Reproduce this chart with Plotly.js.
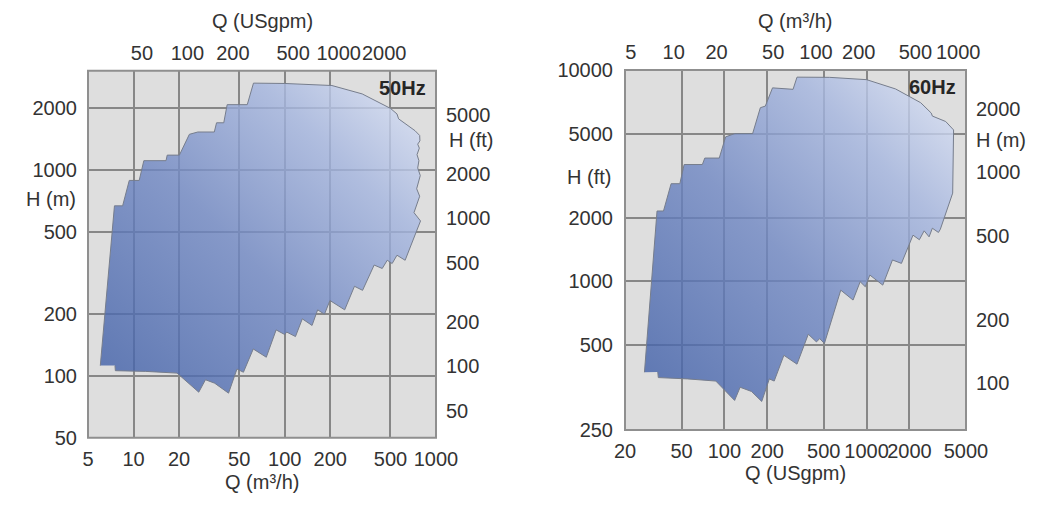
<!DOCTYPE html>
<html>
<head>
<meta charset="utf-8">
<script src="https://cdn.plot.ly/plotly-3.0.1.min.js"></script>
<style>
  html, body { margin: 0; padding: 0; background: #ffffff; }
  #chart { width: 1060px; height: 505px; }
</style>
</head>
<body>
<div id="chart"></div>
<script>
// ---------------- DATA ----------------
// 50 Hz operating envelope: Q in m3/h, H in m
const Q50_M3H = [6.03, 7.48, 8.47, 9.37, 10.9, 11.7, 16.4, 16.7, 20.1, 23.4, 26.6, 34.2, 35.4, 39.5, 41.6, 56.5, 62.1,
  100, 205, 325, 500, 552, 566, 641, 727, 780,
  783, 757, 776, 749, 771, 757, 787, 745, 780, 715, 790,
  625, 552, 513, 476, 441, 390, 327, 289, 249, 199, 183, 165, 151.5, 130.6, 117.7, 103, 100, 87.7, 75.5, 61.9, 53.3, 48.3, 42.5, 34.4, 29.9, 27, 19.4, 12, 7.58, 7.54];
const H50_M = [112, 669, 669, 889, 889, 1109, 1109, 1180, 1180, 1489, 1528, 1528, 1694, 1694, 2075, 2075, 2640,
  2630, 2570, 2340, 1990, 1870, 1770, 1650, 1550, 1470,
  1384, 1334, 1276, 1186, 1109, 1022, 939, 810, 745, 620, 565,
  364, 385, 351, 364, 332, 345, 260, 272, 209, 232, 199, 209, 175.5, 189, 155, 163, 158.5, 167, 123, 134.9, 104, 107.8, 82.3, 92, 95.6, 83.2, 103, 105, 105.8, 112];

// 60 Hz operating envelope: Q in USgpm, H in ft
const Q60_GPM = [27.4, 33.6, 37.3, 42.2, 48.6, 52.1, 70, 72.8, 92, 102, 118.5, 158, 179, 194, 218, 304, 324,
  550, 1000, 1600, 2400, 2850, 2900, 3600, 4090,
  4030, 3300, 3200, 2900, 2750, 2540, 2350, 2120, 1758, 1520, 1299, 1054, 979, 901, 803, 658,
  505, 468, 444, 389, 324, 262, 224, 207, 183, 155, 129, 118, 87, 55, 34.3, 34];
const H60_FT = [370, 2148, 2148, 2893, 2893, 3566, 3566, 3826, 3826, 4822, 5000, 5000, 6628, 6745, 8230, 8100, 9250,
  9230, 9000, 8130, 7000, 6250, 6050, 5700, 5200,
  2610, 1760, 1700, 1780, 1620, 1730, 1570, 1650, 1213, 1259, 957, 1068, 940, 993, 813, 906,
  506, 534, 515, 560, 404, 445, 336, 344, 269, 300, 314, 272, 336, 344, 349, 371];

// Tick values / labels
const L_Q_M3H_TICKS = [5, 10, 20, 50, 100, 200, 500, 1000];
const L_Q_GPM_TICKS = [50, 100, 200, 500, 1000, 2000];
const L_H_M_TICKS = [50, 100, 200, 500, 1000, 2000];
const L_H_FT_TICKS = [50, 100, 200, 500, 1000, 2000, 5000];

const R_Q_GPM_TICKS = [20, 50, 100, 200, 500, 1000, 2000, 5000];
const R_Q_M3H_TICKS = [5, 10, 20, 50, 100, 200, 500, 1000];
const R_H_FT_TICKS = [197, 500, 1000, 2000, 5000, 10000];
const R_H_FT_LABELS = ['250', '500', '1000', '2000', '5000', '10000'];
const R_H_M_TICKS = [100, 200, 500, 1000, 2000];

const GPM_PER_M3H = 4.403;
const FT_PER_M = 3.281;

// ---------------- LAYOUT ----------------
const W = 1060, Hh = 505;
const lg = Math.log10;
const px = v => v / W;
const py = v => 1 - v / Hh;
const FONT = 'Liberation Sans, Arial, Helvetica, sans-serif';
const TXT = '#333333';
const GRID = '#878787';
const FS = 20;

const labels = a => a.map(String);

const Lx = [lg(5), 3];
const Ly = [lg(50), 3.482];
const Rx = [lg(20), lg(5000)];
const Ry = [lg(197), 4];

function baseAxis(extra) {
  return Object.assign({
    type: 'log', tickmode: 'array', showgrid: true, gridcolor: GRID, gridwidth: 2,
    zeroline: false, showline: false, ticks: '', fixedrange: true, tickangle: 0,
    tickfont: {family: FONT, size: FS, color: TXT}
  }, extra);
}

const layout = {
  width: W, height: Hh,
  margin: {l: 0, r: 0, t: 0, b: 0},
  paper_bgcolor: '#ffffff',
  plot_bgcolor: '#dedede',
  showlegend: false,
  font: {family: FONT, size: FS, color: TXT},
  // left chart (50 Hz)
  xaxis: baseAxis({domain: [px(88), px(436)], anchor: 'y', range: Lx,
    tickvals: L_Q_M3H_TICKS, ticktext: labels(L_Q_M3H_TICKS), ticklabelstandoff: 7}),
  xaxis2: baseAxis({overlaying: 'x', anchor: 'y', side: 'top', showgrid: false,
    range: [Lx[0] + lg(GPM_PER_M3H), Lx[1] + lg(GPM_PER_M3H)],
    tickvals: L_Q_GPM_TICKS, ticktext: labels(L_Q_GPM_TICKS), ticklabelstandoff: 6}),
  yaxis: baseAxis({domain: [py(437.7), py(70.7)], anchor: 'x', range: Ly,
    tickvals: L_H_M_TICKS, ticktext: labels(L_H_M_TICKS), ticklabelstandoff: 10}),
  yaxis2: baseAxis({overlaying: 'y', anchor: 'x', side: 'right', showgrid: false,
    range: [1.518, 3.997],
    tickvals: L_H_FT_TICKS, ticktext: labels(L_H_FT_TICKS), ticklabelstandoff: 9}),
  // right chart (60 Hz)
  xaxis3: baseAxis({domain: [px(625), px(966)], anchor: 'y3', range: Rx,
    tickvals: R_Q_GPM_TICKS, ticktext: labels(R_Q_GPM_TICKS), ticklabelstandoff: 7}),
  xaxis4: baseAxis({overlaying: 'x3', anchor: 'y3', side: 'top', showgrid: false,
    range: [Rx[0] - lg(GPM_PER_M3H), Rx[1] - lg(GPM_PER_M3H)],
    tickvals: R_Q_M3H_TICKS, ticktext: labels(R_Q_M3H_TICKS), ticklabelstandoff: 6}),
  yaxis3: baseAxis({domain: [py(430), py(70)], anchor: 'x3', range: Ry,
    tickvals: R_H_FT_TICKS, ticktext: R_H_FT_LABELS, ticklabelstandoff: 11}),
  yaxis4: baseAxis({overlaying: 'y3', anchor: 'x3', side: 'right', showgrid: false,
    range: [Ry[0] - lg(FT_PER_M), Ry[1] - lg(FT_PER_M)],
    tickvals: R_H_M_TICKS, ticktext: labels(R_H_M_TICKS), ticklabelstandoff: 9}),
  shapes: [
    {type: 'rect', xref: 'x domain', yref: 'y domain', x0: 0, x1: 1, y0: 0, y1: 1,
     line: {color: '#8f8f8f', width: 2}, layer: 'above'},
    {type: 'rect', xref: 'x3 domain', yref: 'y3 domain', x0: 0, x1: 1, y0: 0, y1: 1,
     line: {color: '#8f8f8f', width: 2}, layer: 'above'}
  ],
  annotations: [
    {text: 'Q (USgpm)', x: px(262), y: py(21), xref: 'paper', yref: 'paper', showarrow: false, xanchor: 'center', yanchor: 'middle'},
    {text: 'Q (m³/h)', x: px(262), y: py(482), xref: 'paper', yref: 'paper', showarrow: false, xanchor: 'center', yanchor: 'middle'},
    {text: 'H (m)', x: px(51), y: py(199), xref: 'paper', yref: 'paper', showarrow: false, xanchor: 'center', yanchor: 'middle'},
    {text: 'H (ft)', x: px(471), y: py(140), xref: 'paper', yref: 'paper', showarrow: false, xanchor: 'center', yanchor: 'middle'},
    {text: '<b>50Hz</b>', x: px(428), y: py(88), xref: 'paper', yref: 'paper', showarrow: false, xanchor: 'right', yanchor: 'middle', font: {size: FS, color: '#262626'}},
    {text: 'Q (m³/h)', x: px(795), y: py(21), xref: 'paper', yref: 'paper', showarrow: false, xanchor: 'center', yanchor: 'middle'},
    {text: 'Q (USgpm)', x: px(795), y: py(473), xref: 'paper', yref: 'paper', showarrow: false, xanchor: 'center', yanchor: 'middle'},
    {text: 'H (ft)', x: px(589), y: py(177), xref: 'paper', yref: 'paper', showarrow: false, xanchor: 'center', yanchor: 'middle'},
    {text: 'H (m)', x: px(1001), y: py(140), xref: 'paper', yref: 'paper', showarrow: false, xanchor: 'center', yanchor: 'middle'},
    {text: '<b>60Hz</b>', x: px(958), y: py(87), xref: 'paper', yref: 'paper', showarrow: false, xanchor: 'right', yanchor: 'middle', font: {size: FS, color: '#262626'}}
  ]
};

const data = [
  {type: 'scatter', mode: 'lines', x: Q50_M3H, y: H50_M, xaxis: 'x', yaxis: 'y',
   fill: 'toself', fillcolor: 'rgba(140,160,210,0.8)', line: {color: '#767d8c', width: 1}, hoverinfo: 'skip'},
  {type: 'scatter', mode: 'lines', x: Q60_GPM, y: H60_FT, xaxis: 'x3', yaxis: 'y3',
   fill: 'toself', fillcolor: 'rgba(140,160,210,0.8)', line: {color: '#767d8c', width: 1}, hoverinfo: 'skip'},
  // same envelopes in the secondary units, invisible: they only activate the secondary axes
  {type: 'scatter', mode: 'lines', x: Q50_M3H.map(q => q * GPM_PER_M3H), y: H50_M.map(h => h * FT_PER_M),
   xaxis: 'x2', yaxis: 'y2', opacity: 0, line: {width: 0}, hoverinfo: 'skip'},
  {type: 'scatter', mode: 'lines', x: Q60_GPM.map(q => q / GPM_PER_M3H), y: H60_FT.map(h => h / FT_PER_M),
   xaxis: 'x4', yaxis: 'y4', opacity: 0, line: {width: 0}, hoverinfo: 'skip'}
];

Plotly.newPlot('chart', data, layout, {staticPlot: true, displayModeBar: false}).then(gd => {
  const NS = 'http://www.w3.org/2000/svg';
  const defs = gd.querySelector('.main-svg defs');
  function addGrad(id) {
    const g = document.createElementNS(NS, 'linearGradient');
    g.setAttribute('id', id);
    g.setAttribute('x1', '0'); g.setAttribute('y1', '1');
    g.setAttribute('x2', '1'); g.setAttribute('y2', '0');
    [['0', '#3c5ca6'], ['0.45', '#6f87c3'], ['0.75', '#a4b5df'], ['1', '#e0e7f8']].forEach(([o, c]) => {
      const s = document.createElementNS(NS, 'stop');
      s.setAttribute('offset', o); s.setAttribute('stop-color', c);
      g.appendChild(s);
    });
    defs.appendChild(g);
  }
  addGrad('gradL'); addGrad('gradR');
  const fl = gd.querySelector('.subplot.xy .js-fill');
  const fr = gd.querySelector('.subplot.x3y3 .js-fill');
  [[fl, 'gradL'], [fr, 'gradR']].forEach(([p, id]) => {
    if (p) { p.style.fill = 'url(#' + id + ')'; p.style.fillOpacity = '0.8'; }
  });
});
</script>
</body>
</html>
